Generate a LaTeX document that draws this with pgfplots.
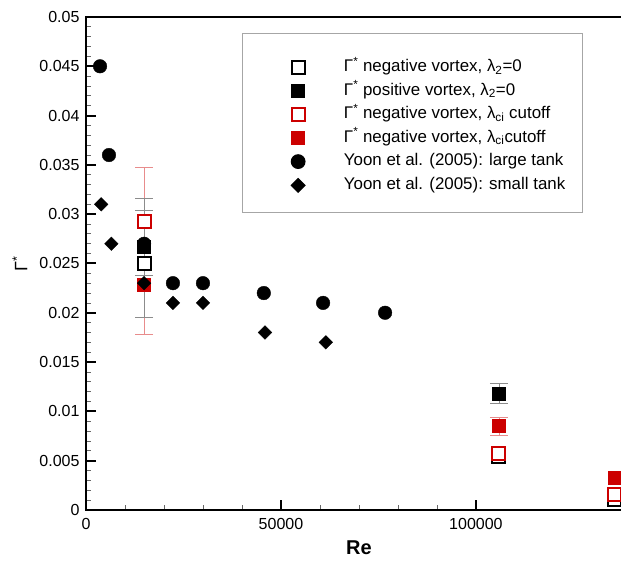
\documentclass[border=0pt]{standalone}
\usepackage{fontspec}
\setmainfont{Liberation Sans}
\usepackage{pgfplots}
\pgfplotsset{compat=1.18}
\usetikzlibrary{calc}
\definecolor{tecred}{RGB}{204,0,0}

\begin{document}
\begin{tikzpicture}
\begin{axis}[
  scale only axis,
  width=546pt, height=493pt,
  xmin=0, xmax=140000, ymin=0, ymax=0.05,
  xtick={0,50000,100000},
  xticklabels={0,50000,100000},
  ytick={0,0.005,0.01,0.015,0.02,0.025,0.03,0.035,0.04,0.045,0.05},
  yticklabels={0,0.005,0.01,0.015,0.02,0.025,0.03,0.035,0.04,0.045,0.05},
  minor x tick num=4, minor y tick num=4,
  tick align=inside, tick pos=left,
  major tick length=10pt, minor tick length=5pt,
  axis line style={line width=2pt},
  every major tick/.append style={line width=2pt, black},
  every minor tick/.append style={line width=0.8pt, black!60},
  scaled x ticks=false, scaled y ticks=false,
  xticklabel style={yshift=-5pt},
  yticklabel style={xshift=-3pt},
  ticklabel style={font=\fontsize{16}{16}\selectfont},
  xlabel={\bfseries Re},
  xlabel style={at={(axis description cs:0.5,0)}, yshift=-38pt, anchor=center, font=\fontsize{20}{20}\selectfont},
  ylabel={Γ\textsuperscript{*}},
  ylabel style={at={(axis description cs:-0.121,0.5)}, anchor=center, font=\fontsize{18}{18}\selectfont},
  legend style={at={(0.2857,0.9675)}, anchor=north west, draw=black!35, line width=1.2pt,
    font=\fontsize{16.9}{17}\selectfont, inner xsep=15pt, inner ysep=20pt, row sep=3pt,
    nodes={inner sep=2pt, text height=16pt, text depth=0pt},
    /tikz/every odd column/.append style={column sep=37pt}},
  legend cell align=left,
  legend image code/.code={\path (-40pt,-4pt) (6pt,-4pt); \draw[#1] plot coordinates {(0pt,-4pt)};},
]
% error bars (drawn first, behind the markers)
\addplot[forget plot, only marks, mark=none,
  error bars/.cd, y dir=both, y explicit,
  error bar style={draw=tecred!45, line width=0.8pt},
  error mark options={rotate=90, mark size=9pt, draw=tecred!45, line width=0.8pt}]
  coordinates {(14900,0.0293) += (0,0.0054) -= (0,0.0115)
               (105900,0.0085) += (0,0.0009) -= (0,0.0009)};
\addplot[forget plot, only marks, mark=none,
  error bars/.cd, y dir=both, y explicit,
  error bar style={draw=black!45, line width=0.8pt},
  error mark options={rotate=90, mark size=9pt, draw=black!45, line width=0.8pt}]
  coordinates {(14900,0.0250) += (0,0.0066) -= (0,0.0055)
               (14900,0.0267) += (0,0.0037) -= (0,0.0029)
               (105900,0.0118) += (0,0.0010) -= (0,0.0010)};

\addplot[only marks, mark=square*, mark size=6.5pt, mark options={draw=black, fill=white, line width=2pt}]
  coordinates {(14900,0.0250) (105900,0.0054) (135500,0.0011)};
\addlegendentry{Γ\textsuperscript{*} negative vortex, λ\textsubscript{2}=0}
\addplot[only marks, mark=square*, mark size=6.5pt, mark options={draw=black, fill=black}]
  coordinates {(14900,0.0267) (105900,0.0118)};
\addlegendentry{Γ\textsuperscript{*} positive vortex, λ\textsubscript{2}=0}
\addplot[only marks, mark=square*, mark size=6.5pt, mark options={draw=tecred, fill=white, line width=2pt}]
  coordinates {(14900,0.0293) (105900,0.0057) (135500,0.0016)};
\addlegendentry{Γ\textsuperscript{*} negative vortex, λ\textsubscript{ci} cutoff}
\addplot[only marks, mark=square*, mark size=6.5pt, mark options={draw=tecred, fill=tecred}]
  coordinates {(14900,0.0228) (105900,0.0085) (135500,0.0033)};
\addlegendentry{Γ\textsuperscript{*} negative vortex, λ\textsubscript{ci}cutoff}
\addplot[only marks, mark=*, mark size=6.8pt, mark options={draw=black, fill=black}]
  coordinates {(3600,0.045) (5900,0.036) (14900,0.027) (22300,0.023) (30000,0.023)
               (45600,0.022) (60800,0.021) (76700,0.020)};
\addlegendentry{Yoon et al. (2005): large tank}
\addplot[only marks, mark=square*, mark size=4.8pt, mark options={draw=black, fill=black, rotate=45}]
  coordinates {(3900,0.031) (6500,0.027) (14900,0.023) (22300,0.021) (30000,0.021)
               (45900,0.018) (61500,0.017)};
\addlegendentry{Yoon et al. (2005): small tank}
\coordinate (cutpt) at (axis cs:137200,0);
\end{axis}
\pgfresetboundingbox
\path[use as bounding box] ($(current axis.south west)+(-86pt,-52pt)$) rectangle ($(cutpt |- current axis.north east)+(0,17pt)$);
\end{tikzpicture}
\end{document}
